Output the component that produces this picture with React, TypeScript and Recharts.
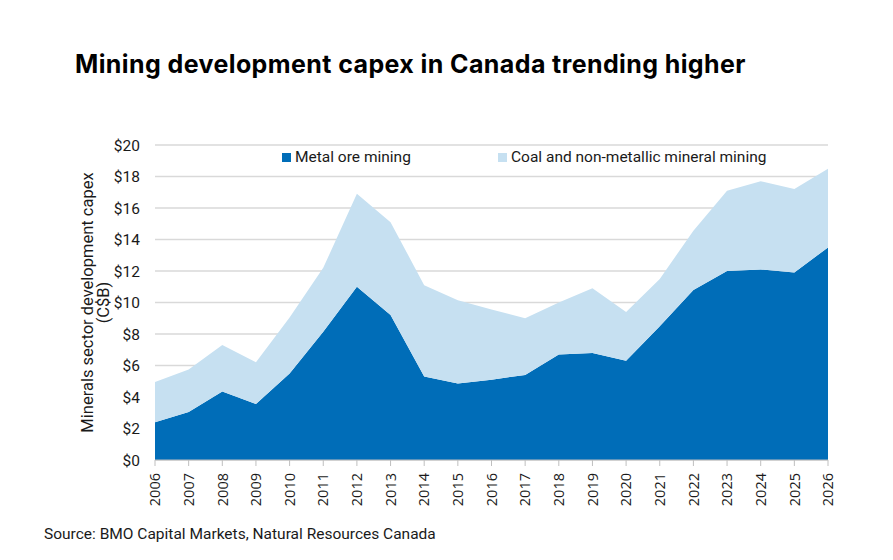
import React from 'react';
import {
  AreaChart,
  Area,
  XAxis,
  YAxis,
  CartesianGrid,
} from 'recharts';

const YEARS = [
  '2006', '2007', '2008', '2009', '2010', '2011', '2012', '2013', '2014', '2015', '2016',
  '2017', '2018', '2019', '2020', '2021', '2022', '2023', '2024', '2025', '2026',
];

// C$B
const METAL_ORE = [
  2.4, 3.05, 4.35, 3.55, 5.5, 8.15, 11.0, 9.2, 5.3, 4.85, 5.1,
  5.4, 6.7, 6.8, 6.3, 8.5, 10.8, 12.0, 12.1, 11.9, 13.5,
];
const TOTAL = [
  4.95, 5.75, 7.3, 6.2, 9.05, 12.2, 16.9, 15.1, 11.1, 10.15, 9.55,
  9.0, 10.0, 10.9, 9.4, 11.5, 14.55, 17.1, 17.7, 17.2, 18.5,
];

const Y_TICKS = [0, 2, 4, 6, 8, 10, 12, 14, 16, 18, 20];

const SERIES_NAMES = ['Metal ore mining', 'Coal and non-metallic mineral mining'];

const DARK = '#006db8';
const LIGHT = '#c6e0f1';
const TEXT = '#1a1a1a';
const SANS = "'Roboto', sans-serif";

const data = YEARS.map((year, i) => ({
  year,
  metal: METAL_ORE[i],
  coal: +(TOTAL[i] - METAL_ORE[i]).toFixed(2),
}));

const YearTick = (props: any) => {
  const { x, y, payload } = props;
  return (
    <text
      transform={`translate(${x},${y + 5}) rotate(-90)`}
      textAnchor="end"
      dy="0.36em"
      fill={TEXT}
      fontSize={14.5}
      fontFamily="'Open Sans', sans-serif"
    >
      {payload.value}
    </text>
  );
};

const YLabel = (props: any) => {
  const { viewBox } = props;
  const cy = viewBox.y + viewBox.height / 2;
  return (
    <g fill={TEXT} fontSize={16.5} fontFamily={SANS}>
      <text transform={`translate(93,${cy}) rotate(-90)`} textAnchor="middle">
        Minerals sector development capex
      </text>
      <text transform={`translate(109,${cy}) rotate(-90)`} textAnchor="middle">
        (C$B)
      </text>
    </g>
  );
};

const LEGEND_ITEMS = [
  { name: SERIES_NAMES[0], color: DARK, left: 282 },
  { name: SERIES_NAMES[1], color: LIGHT, left: 498 },
];

export default function App() {
  return (
    <div style={{ position: 'absolute', left: 0, top: 0, width: 893, height: 560, background: '#fff' }}>
      <div
        style={{
          position: 'absolute',
          left: 75,
          top: 49,
          fontFamily: "'Inter', sans-serif",
          fontWeight: 700,
          fontSize: 25,
          letterSpacing: 0.4,
          color: '#000',
          whiteSpace: 'nowrap',
        }}
      >
        Mining development capex in Canada trending higher
      </div>
      <AreaChart
        width={893}
        height={560}
        data={data}
        margin={{ top: 145, right: 65, bottom: 0, left: 0 }}
      >
        <CartesianGrid vertical={false} stroke="#d9d9d9" strokeWidth={1.5} />
        <XAxis
          dataKey="year"
          height={100}
          interval={0}
          tick={<YearTick />}
          tickLine={{ stroke: '#bfbfbf' }}
          axisLine={{ stroke: '#bfbfbf' }}
          tickSize={6}
        />
        <YAxis
          width={155}
          domain={[0, 20]}
          ticks={Y_TICKS}
          interval={0}
          axisLine={false}
          tickLine={false}
          tickSize={0}
          tickMargin={15}
          tickFormatter={(v: number) => `$${v}`}
          tick={{ fill: TEXT, fontSize: 15.5, fontFamily: SANS }}
          label={<YLabel />}
        />
        <Area
          type="linear"
          dataKey="metal"
          name={SERIES_NAMES[0]}
          stackId="capex"
          stroke="none"
          fill={DARK}
          fillOpacity={1}
          isAnimationActive={false}
        />
        <Area
          type="linear"
          dataKey="coal"
          name={SERIES_NAMES[1]}
          stackId="capex"
          stroke="none"
          fill={LIGHT}
          fillOpacity={1}
          isAnimationActive={false}
        />
      </AreaChart>
      {LEGEND_ITEMS.map((it) => (
        <div
          key={it.name}
          style={{
            position: 'absolute',
            left: it.left,
            top: 146,
            height: 22,
            display: 'flex',
            alignItems: 'center',
            fontFamily: SANS,
            fontSize: 15.5,
            color: TEXT,
            whiteSpace: 'nowrap',
          }}
        >
          <span
            style={{ width: 9, height: 9, background: it.color, marginRight: 4, display: 'inline-block' }}
          />
          {it.name}
        </div>
      ))}
      <div
        style={{
          position: 'absolute',
          left: 44,
          top: 525,
          fontFamily: SANS,
          fontSize: 15.5,
          color: TEXT,
          whiteSpace: 'nowrap',
        }}
      >
        Source: BMO Capital Markets, Natural Resources Canada
      </div>
    </div>
  );
}
